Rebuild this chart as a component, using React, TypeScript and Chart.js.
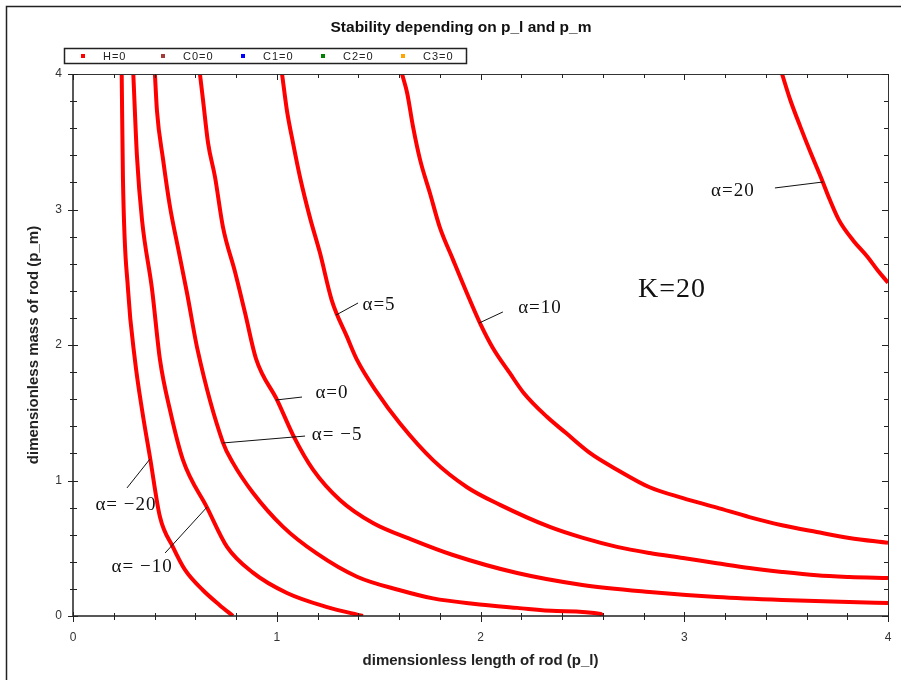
import { useEffect, useRef } from 'react';
import { Chart, registerables } from 'chart.js';

Chart.register(...registerables);

// ---- data ----
const curveLabel = 'H=0';

// alpha = -20
const plAlphaM20 = [0.239, 0.245, 0.27, 0.304, 0.339, 0.378, 0.427, 0.49, 0.55, 0.638, 0.72, 0.785];
const pmAlphaM20 = [4.0, 3.24, 2.41, 1.89, 1.52, 1.17, 0.73, 0.51, 0.34, 0.19, 0.08, 0.0];

// alpha = -10
const plAlphaM10 = [0.296, 0.314, 0.339, 0.388, 0.427, 0.476, 0.54, 0.658, 0.756, 0.883, 1.05, 1.247, 1.423];
const pmAlphaM10 = [4.0, 3.39, 2.92, 2.41, 1.89, 1.52, 1.15, 0.8, 0.51, 0.32, 0.17, 0.066, 0.0];

// alpha = -5
const plAlphaM5 = [0.402, 0.412, 0.442, 0.476, 0.515, 0.56, 0.612, 0.736, 0.785, 0.883, 1.03, 1.198, 1.394, 1.605, 1.767, 1.963, 2.18, 2.375, 2.59, 2.6];
const pmAlphaM5 = [4.0, 3.73, 3.37, 3.02, 2.72, 2.38, 1.96, 1.28, 1.13, 0.91, 0.66, 0.46, 0.29, 0.19, 0.13, 0.09, 0.06, 0.037, 0.015, 0.0];

// alpha = 0
const plAlpha0 = [0.623, 0.638, 0.663, 0.697, 0.736, 0.795, 0.844, 0.898, 1.003, 1.085, 1.178, 1.31, 1.472, 1.669, 1.865, 2.18, 2.5, 2.83, 3.16, 3.48, 3.81, 4.0];
const pmAlpha0 = [4.0, 3.81, 3.49, 3.24, 2.87, 2.54, 2.24, 1.9, 1.59, 1.32, 1.08, 0.856, 0.686, 0.56, 0.45, 0.317, 0.229, 0.177, 0.14, 0.118, 0.103, 0.096];

// alpha = 5
const plAlpha5 = [1.026, 1.05, 1.08, 1.114, 1.163, 1.212, 1.27, 1.345, 1.394, 1.492, 1.605, 1.767, 1.934, 2.096, 2.34, 2.503, 2.67, 2.83, 2.994, 3.16, 3.32, 3.48, 3.65, 3.81, 4.0];
const pmAlpha5 = [4.0, 3.73, 3.49, 3.24, 2.94, 2.68, 2.33, 2.06, 1.89, 1.65, 1.42, 1.15, 0.95, 0.82, 0.657, 0.576, 0.51, 0.465, 0.428, 0.39, 0.354, 0.325, 0.3, 0.288, 0.28];

// alpha = 10
const plAlpha10 = [1.615, 1.64, 1.669, 1.703, 1.752, 1.8, 1.865, 1.934, 1.998, 2.06, 2.145, 2.21, 2.326, 2.42, 2.54, 2.67, 2.83, 2.994, 3.16, 3.32, 3.48, 3.65, 3.81, 4.0];
const pmAlpha10 = [4.0, 3.86, 3.61, 3.37, 3.12, 2.87, 2.63, 2.38, 2.16, 1.98, 1.79, 1.65, 1.47, 1.35, 1.2, 1.08, 0.95, 0.87, 0.8, 0.73, 0.67, 0.62, 0.576, 0.54];

// alpha = 20
const plAlpha20 = [3.48, 3.52, 3.57, 3.62, 3.67, 3.715, 3.76, 3.83, 3.9, 3.95, 4.0];
const pmAlpha20 = [4.0, 3.81, 3.61, 3.42, 3.24, 3.07, 2.92, 2.77, 2.65, 2.55, 2.46];

const curvesX = [plAlphaM20, plAlphaM10, plAlphaM5, plAlpha0, plAlpha5, plAlpha10, plAlpha20];
const curvesY = [pmAlphaM20, pmAlphaM10, pmAlphaM5, pmAlpha0, pmAlpha5, pmAlpha10, pmAlpha20];

const legendLabels = ['H=0', 'C0=0', 'C1=0', 'C2=0', 'C3=0'];
const legendColors = ['#ff0000', '#a33a3a', '#0000ff', '#008000', '#ffa500'];

// annotation labels (text position and leader line in data units)
const annotationTexts = ['α=20', 'α=10', 'α=5', 'α=0', 'α= −5', 'α= −20', 'α= −10'];
const annotationTextX = [3.239, 2.292, 1.502, 1.271, 1.296, 0.26, 0.339];
const annotationTextY = [3.137, 2.273, 2.295, 1.646, 1.336, 0.819, 0.362];
const leaderFromX = [3.445, 2.11, 1.399, 1.124, 1.139, 0.265, 0.452];
const leaderFromY = [3.159, 2.244, 2.31, 1.616, 1.328, 0.945, 0.465];
const leaderToX = [3.681, 1.993, 1.291, 0.996, 0.736, 0.378, 0.658];
const leaderToY = [3.203, 2.162, 2.221, 1.594, 1.277, 1.159, 0.804];

const kLabel = 'K=20';
const kLabelX = 2.94;
const kLabelY = 2.406;

const xTickStep = 0.2;
const yTickStep = 0.2;

const SANS = '"Liberation Sans", Arial, sans-serif';
const SERIF = '"Liberation Serif", "Times New Roman", serif';

const isMajor = (v: number) => Math.abs(v - Math.round(v)) < 1e-6;

const decorPlugin = {
  id: 'decor',
  afterDraw(chart: any) {
    const { ctx, chartArea: a, scales } = chart;
    const xs = scales.x;
    const ys = scales.y;
    ctx.save();

    // outer frame
    ctx.strokeStyle = '#222';
    ctx.lineWidth = 1.5;
    ctx.beginPath();
    ctx.moveTo(6.5, chart.height);
    ctx.lineTo(6.5, 6.5);
    ctx.lineTo(chart.width, 6.5);
    ctx.stroke();

    // plot box: top & right thin
    ctx.strokeStyle = '#333';
    ctx.lineWidth = 1;
    ctx.beginPath();
    ctx.moveTo(a.left, a.top + 0.5);
    ctx.lineTo(a.right + 0.5, a.top + 0.5);
    ctx.lineTo(a.right + 0.5, a.bottom + 6);
    ctx.stroke();
    // left & bottom axis lines
    ctx.strokeStyle = '#222';
    ctx.lineWidth = 1.5;
    ctx.beginPath();
    ctx.moveTo(a.left, a.top);
    ctx.lineTo(a.left, a.bottom);
    ctx.lineTo(a.right, a.bottom);
    ctx.stroke();

    // tick marks
    ctx.lineWidth = 1;
    ctx.strokeStyle = '#222';
    ctx.beginPath();
    xs.ticks.forEach((t: any) => {
      const px = Math.round(xs.getPixelForValue(t.value)) + 0.5;
      const maj = isMajor(t.value);
      ctx.moveTo(px, a.bottom - (maj ? 4 : 3));
      ctx.lineTo(px, a.bottom + (maj ? 6 : 4));
      ctx.moveTo(px, a.top);
      ctx.lineTo(px, a.top + (maj ? 6 : 4));
    });
    ys.ticks.forEach((t: any) => {
      const py = Math.round(ys.getPixelForValue(t.value)) + 0.5;
      const maj = isMajor(t.value);
      ctx.moveTo(a.left - (maj ? 5 : 3), py);
      ctx.lineTo(a.left + (maj ? 5 : 4), py);
      ctx.moveTo(a.right, py);
      ctx.lineTo(a.right - (maj ? 6 : 4), py);
    });
    ctx.stroke();

    // legend box
    ctx.strokeStyle = '#222';
    ctx.lineWidth = 1.5;
    ctx.strokeRect(64.5, 48.5, 402, 15);
    ctx.font = `11px ${SANS}`;
    (ctx as any).letterSpacing = '1px';
    ctx.textBaseline = 'middle';
    ctx.textAlign = 'left';
    legendLabels.forEach((lab, i) => {
      const bx = 83 + i * 80;
      ctx.fillStyle = legendColors[i];
      ctx.fillRect(bx - 2, 54, 4, 4);
      ctx.fillStyle = '#222';
      ctx.fillText(lab, bx + 20, 56.5);
    });

    // annotations
    ctx.strokeStyle = '#111';
    ctx.lineWidth = 1;
    ctx.beginPath();
    annotationTexts.forEach((_, i) => {
      ctx.moveTo(xs.getPixelForValue(leaderFromX[i]), ys.getPixelForValue(leaderFromY[i]));
      ctx.lineTo(xs.getPixelForValue(leaderToX[i]), ys.getPixelForValue(leaderToY[i]));
    });
    ctx.stroke();

    ctx.fillStyle = '#111';
    ctx.textAlign = 'center';
    ctx.textBaseline = 'middle';
    ctx.font = `19px ${SERIF}`;
    (ctx as any).letterSpacing = '1px';
    annotationTexts.forEach((txt, i) => {
      ctx.fillText(txt, xs.getPixelForValue(annotationTextX[i]), ys.getPixelForValue(annotationTextY[i]));
    });
    ctx.font = `28px ${SERIF}`;
    (ctx as any).letterSpacing = '1px';
    ctx.fillText(kLabel, xs.getPixelForValue(kLabelX), ys.getPixelForValue(kLabelY));
    (ctx as any).letterSpacing = '0px';

    ctx.restore();
  },
};

export default function App() {
  const canvasRef = useRef<HTMLCanvasElement | null>(null);

  useEffect(() => {
    document.body.style.margin = '0';
    const canvas = canvasRef.current;
    if (!canvas) return;

    const datasets = curvesX.map((xsArr, i) => ({
      label: curveLabel,
      data: xsArr.map((x, j) => ({ x, y: curvesY[i][j] })),
      borderColor: '#ff0000',
      backgroundColor: '#ff0000',
      borderWidth: 4,
      pointRadius: 0,
      showLine: true,
      fill: false,
      cubicInterpolationMode: 'monotone',
    }));

    const tickCb = (v: any) => (isMajor(Number(v)) ? String(Math.round(Number(v))) : '');

    const chart = new Chart(canvas, {
      type: 'scatter',
      data: { datasets },
      options: {
        animation: false,
        responsive: false,
        events: [],
        layout: { padding: { left: 34, right: 13, top: 0, bottom: 0 } },
        plugins: {
          legend: { display: false },
          tooltip: { enabled: false },
          title: {
            display: true,
            text: 'Stability depending on p_l and p_m',
            color: '#111',
            font: { family: SANS, size: 15.5, weight: 'bold' },
            padding: { top: 18.7, bottom: 36.7 },
          },
        },
        scales: {
          x: {
            type: 'linear',
            min: 0,
            max: 4,
            grid: { display: false, drawTicks: false },
            border: { display: false },
            ticks: {
              stepSize: xTickStep,
              autoSkip: false,
              maxRotation: 0,
              padding: 14,
              color: '#333',
              font: { family: SANS, size: 12 },
              callback: tickCb,
            },
            title: {
              display: true,
              text: 'dimensionless length of rod (p_l)',
              color: '#222',
              font: { family: SANS, size: 15, weight: 'bold' },
              padding: { top: 0, bottom: 10 },
            },
            afterFit: (s: any) => {
              s.height = 64;
              s.paddingLeft = 0;
              s.paddingRight = 0;
            },
          },
          y: {
            type: 'linear',
            min: 0,
            max: 4,
            grid: { display: false, drawTicks: false },
            border: { display: false },
            ticks: {
              stepSize: yTickStep,
              autoSkip: false,
              padding: 11,
              color: '#333',
              font: { family: SANS, size: 12 },
              callback: tickCb,
            },
            title: {
              display: true,
              text: 'dimensionless mass of rod (p_m)',
              color: '#222',
              font: { family: SANS, size: 15, weight: 'bold' },
              padding: { top: -9, bottom: 0 },
            },
            afterFit: (s: any) => {
              s.width = 39;
            },
          },
        },
      } as any,
      plugins: [decorPlugin as any],
    });

    return () => {
      chart.destroy();
    };
  }, []);

  return (
    <div style={{ width: 901, height: 680, position: 'relative', overflow: 'hidden', background: '#fff' }}>
      <canvas ref={canvasRef} width={901} height={680} style={{ display: 'block' }} />
    </div>
  );
}
